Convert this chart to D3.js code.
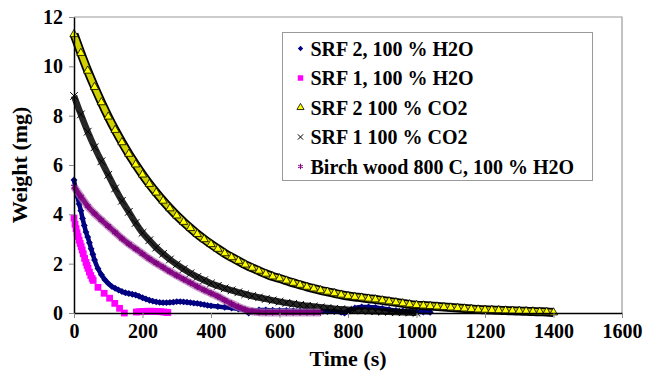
<!DOCTYPE html>
<html>
<head>
<meta charset="utf-8">
<script src="https://cdn.jsdelivr.net/npm/d3@7"></script>
<style>
  body { margin: 0; background: #fff; }
  svg { display: block; }
  text { font-family: "Liberation Serif", "Times New Roman", serif; font-weight: bold; fill: #000; }
</style>
</head>
<body>
<div id="my_graphic"></div>
<script>
// axis ticks
var xTicks = [0, 200, 400, 600, 800, 1000, 1200, 1400, 1600];
var yTicks = [0, 2, 4, 6, 8, 10, 12];

// series: [time (s), weight (mg)]
var srf2H2o = [[0,5.39],[5,5.02],[10,4.72],[15,4.42],[20,4.15],[25,3.83],[30,3.55],[35,3.28],[40,3.08],[45,2.85],
  [50,2.6],[55,2.38],[60,2.15],[70,1.8],[80,1.55],[90,1.35],[100,1.2],[110,1.08],[120,1.0],[130,0.93],[140,0.87],
  [150,0.82],[160,0.79],[170,0.76],[180,0.73],[190,0.68],[200,0.62],[210,0.57],[220,0.52],[230,0.48],[240,0.45],
  [250,0.43],[260,0.42],[270,0.42],[280,0.43],[290,0.44],[300,0.46],[310,0.46],[320,0.45],[330,0.44],[340,0.42],
  [350,0.4],[360,0.39],[370,0.36],[380,0.34],[390,0.31],[400,0.29],[420,0.26],[440,0.23],[460,0.2],[480,0.16],
  [500,0.1],[510,0.0],[520,0.08],[540,0.12],[560,0.12],[580,0.11],[600,0.1],[620,0.1],[640,0.09],[660,0.08],
  [680,0.08],[700,0.07],[720,0.07],[740,0.06],[760,0.06],[780,0.03],[790,0.0],[800,0.08],[820,0.2],[840,0.24],
  [860,0.24],[880,0.22],[900,0.18],[920,0.14],[940,0.1],[960,0.08],[980,0.06],[1000,0.05],[1020,0.04],[1040,0.03]];

var srf1H2o = [[0,3.85],[3,3.6],[6,3.42],[9,3.25],[12,3.1],[15,2.95],[18,2.82],[21,2.69],[24,2.55],[27,2.4],
  [31,2.21],[35,2.05],[38,1.93],[41,1.81],[45,1.66],[49,1.52],[53,1.4],[56,1.32],[70,1.04],[88,0.8],[104,0.6],
  [119,0.39],[133,0.19],[147,0.0],[182,0.04],[190,0.05],[198,0.06],[206,0.06],[214,0.07],[222,0.07],[230,0.07],
  [238,0.06],[246,0.06],[254,0.05],[262,0.04],[270,0.03],[274,0.02]];

var srf2Co2 = [[0,11.3],[20,10.54],[40,9.82],[60,9.16],[80,8.54],[100,7.96],[120,7.42],[140,6.92],[160,6.45],
  [180,6.02],[200,5.61],[220,5.23],[240,4.88],[260,4.55],[280,4.24],[300,3.95],[320,3.69],[340,3.44],[360,3.2],
  [380,2.99],[400,2.79],[420,2.6],[440,2.42],[460,2.26],[480,2.11],[500,1.96],[520,1.83],[540,1.71],[560,1.59],
  [580,1.48],[600,1.4],[620,1.31],[640,1.22],[660,1.14],[680,1.06],[700,0.99],[720,0.92],[740,0.86],[760,0.8],
  [780,0.74],[800,0.69],[820,0.65],[840,0.62],[860,0.58],[880,0.55],[900,0.51],[920,0.47],[940,0.43],[960,0.39],
  [980,0.35],[1000,0.32],[1020,0.3],[1040,0.28],[1060,0.26],[1080,0.24],[1100,0.22],[1120,0.2],[1140,0.18],
  [1160,0.16],[1180,0.14],[1200,0.13],[1220,0.12],[1240,0.11],[1260,0.1],[1280,0.09],[1300,0.08],[1320,0.07],
  [1340,0.06],[1360,0.05],[1380,0.04],[1400,0.02]];

var srf1Co2 = [[0,8.8],[20,8.05],[40,7.35],[60,6.72],[80,6.15],[100,5.6],[120,5.05],[140,4.55],[160,4.1],[180,3.65],
  [200,3.25],[220,2.95],[240,2.65],[260,2.4],[280,2.17],[300,1.97],[320,1.78],[340,1.61],[360,1.46],[380,1.33],
  [400,1.2],[420,1.1],[440,1.0],[460,0.92],[480,0.84],[500,0.76],[520,0.69],[540,0.63],[560,0.57],[580,0.51],
  [600,0.46],[620,0.41],[640,0.37],[660,0.33],[680,0.29],[700,0.26],[720,0.23],[740,0.2],[760,0.17],[780,0.15],
  [800,0.13],[820,0.11],[840,0.1],[860,0.08],[880,0.07],[900,0.06],[920,0.05],[940,0.04],[960,0.03],[980,0.02],
  [1000,0.01]];

var birchH2o = [[0,5.12],[20,4.72],[40,4.33],[60,4.03],[80,3.77],[100,3.52],[120,3.27],[140,3.02],[160,2.8],
  [180,2.6],[200,2.4],[220,2.2],[240,2.02],[260,1.85],[280,1.68],[300,1.52],[320,1.37],[340,1.22],[360,1.07],
  [380,0.93],[400,0.8],[420,0.67],[440,0.52],[460,0.38],[480,0.25],[500,0.14],[520,0.07],[540,0.03],[560,0.02],
  [580,0.02],[600,0.02],[620,0.02],[640,0.02],[660,0.02],[680,0.02],[700,0.02],[720,0.02]];

var seriesNames = ["SRF 2, 100 % H2O", "SRF 1, 100 % H2O", "SRF 2 100 % CO2", "SRF 1 100 % CO2", "Birch wood 800 C, 100 % H2O"];
var seriesData = [srf2H2o, srf1H2o, srf2Co2, srf1Co2, birchH2o];

draw_plot();

function draw_plot() {
    const W = 646, H = 372;
    const margin = {top: 17, right: 24, bottom: 59, left: 74};
    const serif = "Liberation Serif, Times New Roman, serif";

    const svg = d3.select("#my_graphic")
        .append("svg")
        .attr("width", W)
        .attr("height", H);

    const x = d3.scaleLinear().domain([0, 1600]).range([margin.left, W - margin.right]);
    const y = d3.scaleLinear().domain([0, 12]).range([H - margin.bottom, margin.top]);

    // grey frame on top / right
    svg.append("path")
        .attr("d", `M${x(0)},${y(12)}H${x(1600)}V${y(0)}`)
        .attr("fill", "none")
        .attr("stroke", "#9a9a9a")
        .attr("stroke-width", 1.2);

    // marker styles per series
    const styles = [
        {sym: d3.symbolSquare, size: 24, rot: 45, fill: "#000080", stroke: "none", band: [{c: "#000080", w: 4.5, o: 1}]},
        {sym: d3.symbolSquare, size: 46, rot: 0, fill: "#ff00ff", stroke: "none", band: []},
        {sym: d3.symbolTriangle, size: 30, rot: 0, fill: "#ffff00", stroke: "#000", sw: 0.8,
            band: [{c: "#000", w: 9, o: 1}, {c: "#d0d000", w: 5.5, o: 1}]},
        {sym: d3.symbolX, size: 40, rot: 0, fill: "none", stroke: "#000", sw: 1, band: [{c: "#000", w: 6.5, o: 0.85}]},
        {sym: d3.symbolAsterisk, size: 30, rot: 0, fill: "none", stroke: "#800080", sw: 1.1,
            band: [{c: "#b070b0", w: 8, o: 0.7}, {c: "#800080", w: 5, o: 0.9}]}
    ];

    const line = d3.line().x(d => x(d[0])).y(d => y(d[1])).curve(d3.curveMonotoneX);

    seriesData.forEach(function(data, i) {
        const st = styles[i];
        const g = svg.append("g").attr("class", "series s" + i);
        st.band.forEach(function(b) {
            g.append("path")
                .datum(data)
                .attr("d", line)
                .attr("fill", "none")
                .attr("stroke", b.c)
                .attr("stroke-width", b.w)
                .attr("stroke-opacity", b.o)
                .attr("stroke-linejoin", "round");
        });
        g.selectAll("path.mk")
            .data(data)
            .join("path")
            .attr("class", "mk")
            .attr("d", d3.symbol(st.sym, st.size))
            .attr("transform", d => `translate(${x(d[0])},${y(d[1])}) rotate(${st.rot})`)
            .attr("fill", st.fill)
            .attr("stroke", st.stroke)
            .attr("stroke-width", st.sw || 0);
    });

    // Y axis
    svg.append("g")
        .attr("transform", `translate(${x(0)},0)`)
        .attr("font-family", serif)
        .attr("font-size", 20)
        .attr("font-weight", "bold")
        .call(d3.axisLeft(y).tickValues(yTicks).tickFormat(d3.format("d")).tickSize(5).tickPadding(6).tickSizeOuter(0))
        .call(g => g.attr("font-family", serif).attr("font-size", 20))
        .call(g => g.select(".domain").attr("stroke", "#000").attr("stroke-width", 1.5))
        .call(g => g.selectAll(".tick line").attr("stroke", "#888"));

    // X axis
    svg.append("g")
        .attr("transform", `translate(0,${y(0)})`)
        .call(d3.axisBottom(x).tickValues(xTicks).tickFormat(d3.format("d")).tickSize(5).tickPadding(6).tickSizeOuter(0))
        .call(g => g.attr("font-family", serif).attr("font-size", 20).attr("font-weight", "bold"))
        .call(g => g.select(".domain").attr("stroke", "#000").attr("stroke-width", 1.5))
        .call(g => g.selectAll(".tick line").attr("stroke", "#888"));

    // axis titles
    svg.append("text")
        .attr("x", 348)
        .attr("y", 366)
        .attr("text-anchor", "middle")
        .attr("font-size", 22)
        .text("Time (s)");

    svg.append("text")
        .attr("transform", "translate(27,165) rotate(-90)")
        .attr("text-anchor", "middle")
        .attr("font-size", 22)
        .text("Weight (mg)");

    // legend
    const lg = svg.append("g").attr("transform", "translate(282.5,32.5)");
    lg.append("rect")
        .attr("width", 310)
        .attr("height", 148)
        .attr("fill", "#fff")
        .attr("stroke", "#9a9a9a");

    const legendSizes = [14, 30, 22, 20, 20];
    const item = lg.selectAll("g.item")
        .data(seriesNames)
        .join("g")
        .attr("class", "item")
        .attr("transform", (d, i) => `translate(0,${16 + i * 29.5})`);

    item.append("path")
        .attr("d", (d, i) => d3.symbol(styles[i].sym, legendSizes[i])())
        .attr("transform", (d, i) => `translate(18,0) rotate(${styles[i].rot})`)
        .attr("fill", (d, i) => styles[i].fill)
        .attr("stroke", (d, i) => styles[i].stroke)
        .attr("stroke-width", (d, i) => styles[i].sw || 0);

    item.append("text")
        .attr("x", 28)
        .attr("dy", "0.35em")
        .attr("font-size", 20)
        .text(d => d);
}
</script>
</body>
</html>
